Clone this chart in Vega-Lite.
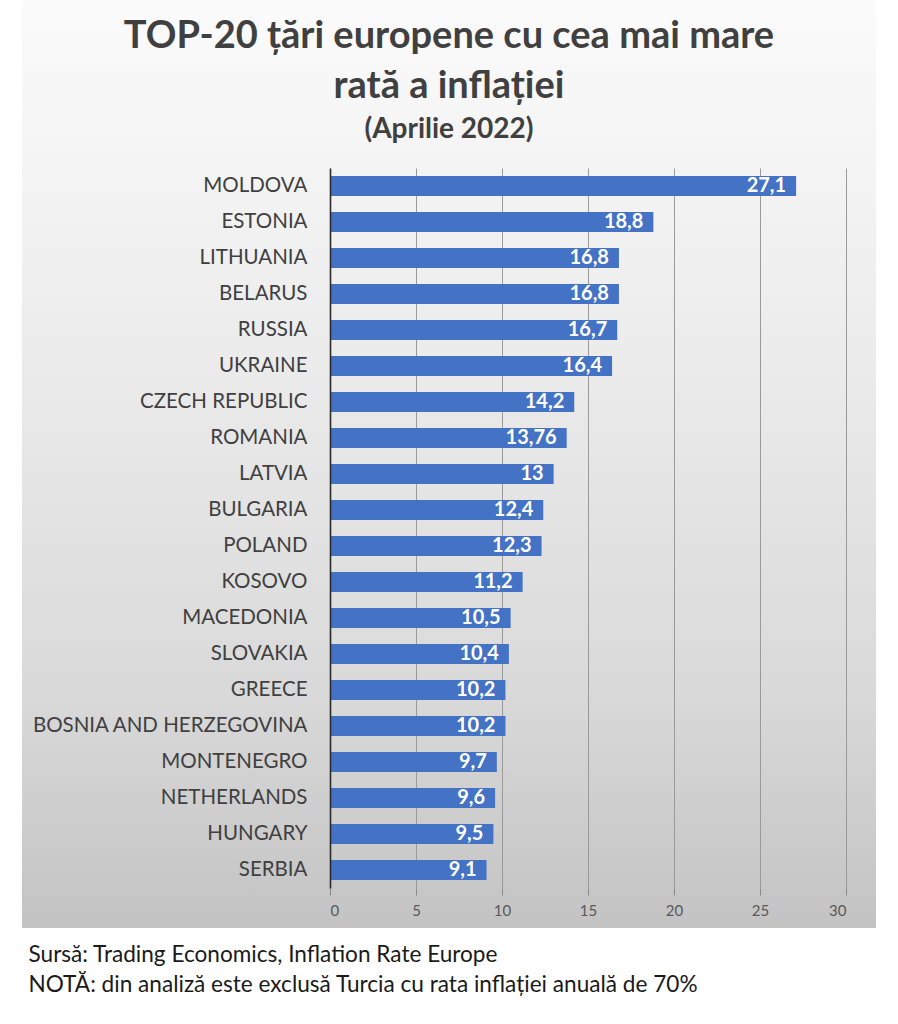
{
  "$schema": "https://vega.github.io/schema/vega-lite/v6.json",
  "width": 854,
  "height": 928,
  "autosize": {"type": "none"},
  "padding": {"left": 22, "top": 0, "right": 22, "bottom": 96},
  "background": "white",
  "config": {
    "font": "Lato",
    "view": {
      "stroke": null,
      "fill": {
        "gradient": "linear",
        "x1": 0, "y1": 0, "x2": 0, "y2": 1,
        "stops": [
          {"offset": 0, "color": "#fbfbfb"},
          {"offset": 0.4, "color": "#ebebeb"},
          {"offset": 0.75, "color": "#d9d9d9"},
          {"offset": 1, "color": "#c3c3c3"}
        ]
      }
    },
    "locale": {"number": {"decimal": ",", "thousands": ".", "grouping": [3], "currency": ["", ""]}}
  },
  "title": {
    "text": ["TOP-20 țări europene cu cea mai mare", "rată a inflației"],
    "subtitle": "(Aprilie 2022)",
    "orient": "top",
    "anchor": "middle",
    "frame": "group",
    "offset": -144,
    "font": "Lato",
    "fontSize": 38,
    "fontWeight": "bold",
    "color": "#404040",
    "lineHeight": 50,
    "subtitleFont": "Lato",
    "subtitleFontSize": 28,
    "subtitleFontWeight": "bold",
    "subtitleColor": "#404040",
    "subtitlePadding": 10
  },
  "data": {
    "values": [
      {"country": "MOLDOVA", "rate": 27.1},
      {"country": "ESTONIA", "rate": 18.8},
      {"country": "LITHUANIA", "rate": 16.8},
      {"country": "BELARUS", "rate": 16.8},
      {"country": "RUSSIA", "rate": 16.7},
      {"country": "UKRAINE", "rate": 16.4},
      {"country": "CZECH REPUBLIC", "rate": 14.2},
      {"country": "ROMANIA", "rate": 13.76},
      {"country": "LATVIA", "rate": 13},
      {"country": "BULGARIA", "rate": 12.4},
      {"country": "POLAND", "rate": 12.3},
      {"country": "KOSOVO", "rate": 11.2},
      {"country": "MACEDONIA", "rate": 10.5},
      {"country": "SLOVAKIA", "rate": 10.4},
      {"country": "GREECE", "rate": 10.2},
      {"country": "BOSNIA AND HERZEGOVINA", "rate": 10.2},
      {"country": "MONTENEGRO", "rate": 9.7},
      {"country": "NETHERLANDS", "rate": 9.6},
      {"country": "HUNGARY", "rate": 9.5},
      {"country": "SERBIA", "rate": 9.1}
    ]
  },
  "encoding": {
    "y": {
      "field": "country",
      "type": "nominal",
      "sort": ["MOLDOVA", "ESTONIA", "LITHUANIA", "BELARUS", "RUSSIA", "UKRAINE", "CZECH REPUBLIC", "ROMANIA", "LATVIA", "BULGARIA", "POLAND", "KOSOVO", "MACEDONIA", "SLOVAKIA", "GREECE", "BOSNIA AND HERZEGOVINA", "MONTENEGRO", "NETHERLANDS", "HUNGARY", "SERBIA"],
      "scale": {"range": [168, 888], "paddingInner": 0.444, "paddingOuter": 0.222},
      "axis": {
        "orient": "left",
        "offset": -308,
        "title": null,
        "ticks": false,
        "tickSize": 0,
        "grid": false,
        "domain": true,
        "domainColor": "#2b2b2b",
        "domainWidth": 1.6,
        "labelPadding": 23,
        "labelLimit": 0,
        "labelFont": "Lato",
        "labelFontSize": 20.5,
        "labelColor": "#404040",
        "zindex": 1
      }
    }
  },
  "layer": [
    {
      "mark": {"type": "bar", "color": "#4472C4"},
      "encoding": {
        "x": {
          "field": "rate",
          "type": "quantitative",
          "scale": {"domain": [0, 30], "range": [308, 824], "nice": false, "zero": true},
          "axis": {
            "orient": "bottom",
            "offset": -40,
            "values": [0, 5, 10, 15, 20, 25, 30],
            "grid": false,
            "domain": false,
            "ticks": true,
            "tickSize": 7,
            "tickColor": "#8a8a8a",
            "labelFont": "Lato",
            "labelFontSize": 15,
            "labelColor": "#595959",
            "labelPadding": 8,
            "title": ["Sursă: Trading Economics, Inflation Rate Europe", "NOTĂ: din analiză este exclusă Turcia cu rata inflației anuală de 70%"],
            "titleFont": "Lato",
            "titleFontSize": 22.6,
            "titleFontWeight": "normal",
            "titleColor": "#1a1a1a",
            "titleAnchor": "start",
            "titleAlign": "left",
            "titleBaseline": "alphabetic",
            "titleLineHeight": 30,
            "titleX": 6,
            "titleY": 73
          }
        }
      }
    },
    {
      "mark": {"type": "text", "align": "right", "baseline": "middle", "dx": -10, "color": "white", "font": "Lato", "fontSize": 20, "fontWeight": "bold"},
      "encoding": {
        "x": {
          "field": "rate",
          "type": "quantitative",
          "axis": {
            "orient": "top",
            "values": [5, 10, 15, 20, 25, 30],
            "grid": true,
            "gridColor": "#9a9a9a",
            "gridWidth": 1,
            "domain": false,
            "ticks": false,
            "labels": false,
            "title": null
          }
        },
        "text": {"field": "rate", "type": "quantitative", "format": "~g"}
      }
    }
  ],
  "resolve": {"axis": {"x": "independent"}}
}
